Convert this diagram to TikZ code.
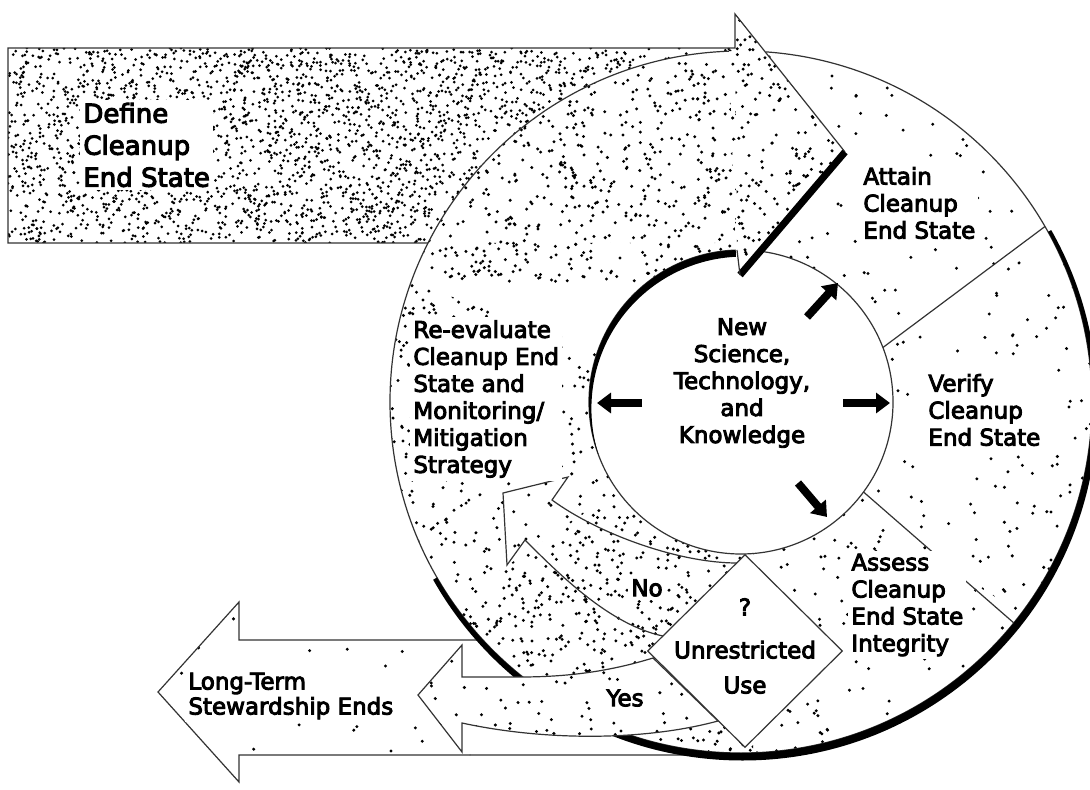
\documentclass[tikz,border=0pt]{standalone}
\usepackage{fontspec}
\setmainfont{DejaVu Sans}[FakeBold=4]
\usetikzlibrary{arrows.meta,positioning,shapes.geometric,calc}

% random stipple: count, x from, x to, y from, y to (pixels, y downwards)
\newcommand{\spray}[5]{%
  \foreach \k in {1,...,#1}{\fill ({#2+rnd*(#3-#2)},{-#4-rnd*(#5-#4)}) circle[radius=\dotr];}}
\newcommand{\ringslice}[2]{%
  \clip (c) -- ++(#1:700) arc[start angle=#1, end angle=#2, radius=700] -- cycle;}
\def\dotr{1.65}

\def\ltpath{(239,-640) -- (239,-602) -- (158,-692) -- (239,-782) -- (239,-755) -- (710,-755)}
\def\headpath{(735,-14) -- (845,-152) -- (740,-275) -- (737,-250) -- cycle}
\def\yespath{(462,-677) -- (520,-677) .. controls (580,-677) and (620,-668) .. (653,-658) -- (718,-721) .. controls (640,-742) and (540,-740) .. (462,-723) -- (462,-752) -- (418,-695) -- (462,-645) -- cycle}

\begin{document}
\begin{tikzpicture}[x=0.5pt, y=0.5pt,
  line/.style={draw=black!80, line width=0.6pt},
  txt/.style={font=\fontsize{11.5}{13.5}\selectfont, align=left, fill=white, inner sep=1.5pt},
  burst/.style={line width=4pt, -{Triangle[length=7pt, width=10pt]}}
]
\path[use as bounding box, fill=white] (0,0) rectangle (1090,-790);
\pgfmathsetseed{2718}
\coordinate (c) at (741,-402);

% Long-term stewardship arrow, outside the ring
\begin{scope}[even odd rule]
  \clip (0,0) rectangle (1090,-790) (c) circle[radius=351];
  \begin{scope}
    \clip (700,-640) -- \ltpath -- cycle;
    \spray{60}{158}{710}{602}{782}
  \end{scope}
  \draw[line] (700,-640) -- \ltpath;
\end{scope}

% Define arrow body
\begin{scope}[even odd rule]
  \clip (8,-48) rectangle (735,-243) (c) circle[radius=351];
  \def\dotr{1.5}
  \spray{3400}{8}{735}{48}{243}
\end{scope}

% Ring stipple
\begin{scope}[even odd rule]
  \clip (c) circle[radius=351] (c) circle[radius=152];
  \begin{scope}\ringslice{92}{160}\spray{700}{390}{741}{51}{282}\end{scope}
  \begin{scope}\ringslice{160}{215}\spray{430}{390}{620}{282}{603}\end{scope}
  \begin{scope}\ringslice{215}{272}\spray{740}{453}{760}{489}{753}\end{scope}
  \begin{scope}\ringslice{25}{92}\spray{120}{729}{1060}{51}{338}\end{scope}
  \begin{scope}\ringslice{-37.5}{25}\spray{140}{862}{1092}{254}{616}\end{scope}
  \begin{scope}\ringslice{-88}{-37.5}\spray{160}{741}{1019}{495}{753}\end{scope}
\end{scope}

% Head of the define arrow
\fill[white] \headpath;
\begin{scope}
  \clip \headpath;
  \spray{240}{735}{845}{14}{275}
\end{scope}

% Rings and shadows
\draw[line] ($(c)+(92:351)$) arc[start angle=92, end angle=446, radius=351];
\draw[line] ($(c)+(92:152)$) arc[start angle=92, end angle=442.8, radius=152];
\begin{scope}
  \ringslice{29}{-150}
  \fill[even odd rule] (742.5,-405.5) circle[radius=355] (c) circle[radius=351];
\end{scope}
\begin{scope}
  \ringslice{92}{200}
  \fill[even odd rule] (c) circle[radius=152] (743.4,-408.6) circle[radius=152];
\end{scope}

% Dividers
\draw[line] ($(c)+(21:152)$) -- ($(c)+(30:351)$);
\draw[line] ($(c)+(-36.3:152)$) -- ($(c)+(-39:351)$);

% Define arrow outline
\draw[line] (428,-243) -- (8,-243) -- (8,-48) -- (735,-48) -- (735,-14) -- (845,-152);
\draw[line width=3.5pt] (845,-152) -- (740,-275);
\draw[line] (740,-275) -- (737,-250);

% Yes arrow
\fill[white] \yespath;
\begin{scope}
  \clip \yespath;
  \spray{110}{418}{718}{645}{752}
\end{scope}
\draw[line] \yespath;

% No arrow
\draw[line] (737,-563) .. controls (680,-563) and (600,-535) .. (552,-500) -- (568,-477) -- (503,-493) -- (507,-565) -- (525,-540) .. controls (560,-575) and (610,-625) .. (663,-636);

% Decision
\node[diamond, line, fill=white, minimum width=97.5pt, minimum height=96.5pt, inner sep=0pt] (use) at (745,-651) {};
\node[font=\fontsize{11.5}{13.5}\selectfont, align=center] (usetxt) at (745,-646) {?\\[8pt]Unrestricted\\[4pt]Use};

% Outward arrows
\coordinate (wl0) at (642,-403); \coordinate (wl1) at (597,-403);
\coordinate (er0) at (843,-403); \coordinate (er1) at (890,-403);
\coordinate (ne0) at (807,-317); \coordinate (ne1) at (838,-283);
\coordinate (se0) at (798,-483); \coordinate (se1) at (827,-517);
\draw[burst] (wl0) -- (wl1);
\draw[burst] (er0) -- (er1);
\draw[burst] (ne0) -- (ne1);
\draw[burst] (se0) -- (se1);

% Labels
\node[txt, fill=none, align=center] (core) at (742,-383) {New\\Science,\\Technology,\\and\\Knowledge};
\node[txt, anchor=west, font=\fontsize{13}{16}\selectfont] (define) at (80,-145) {Define\\Cleanup\\End State};
\node[txt, anchor=west] (attain) at (860,-203) {Attain\\Cleanup\\End State};
\node[txt, anchor=west] (verify) at (925,-410) {Verify\\Cleanup\\End State};
\node[txt, anchor=west] (assess) at (848,-605) {Assess\\Cleanup\\End State\\Integrity};
\node[txt, anchor=west] (reeval) at (410,-399) {Re-evaluate\\Cleanup End\\State and\\Monitoring/\\Mitigation\\Strategy};
\node[txt] (no) at (647,-588) {No};
\node[txt] (yes) at (625,-698) {Yes};
\node[txt, anchor=west, font=\fontsize{11.5}{12.5}\selectfont] (ltse) at (185,-696) {Long-Term\\Stewardship Ends};

\end{tikzpicture}
\end{document}
